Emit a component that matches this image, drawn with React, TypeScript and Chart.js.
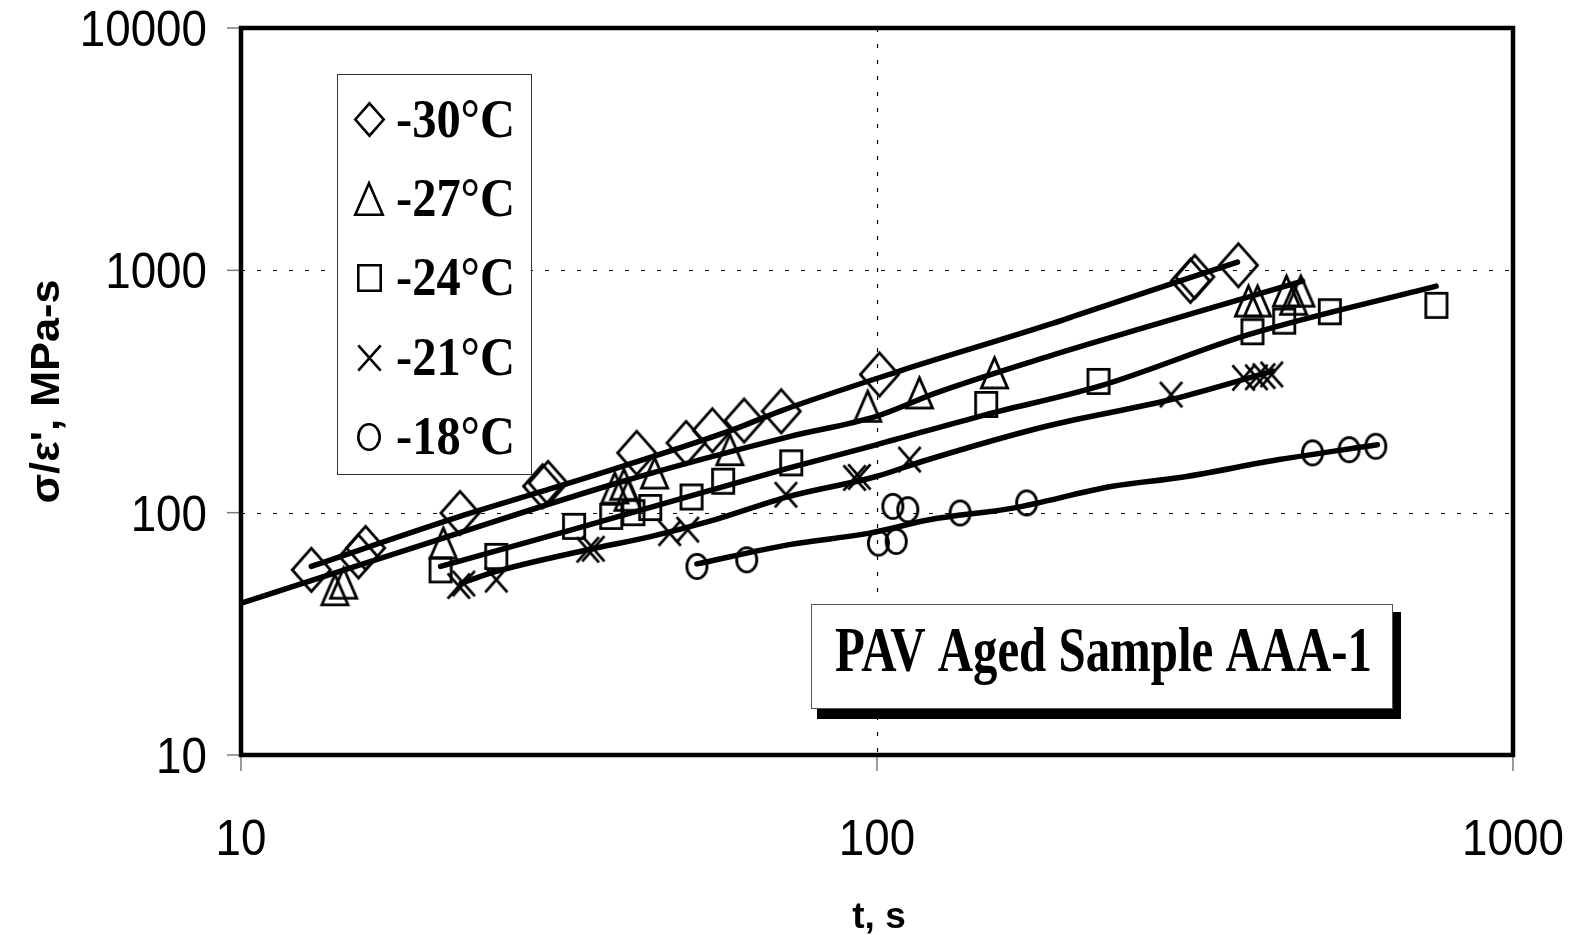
import { useEffect, useRef } from 'react';
import { Chart, registerables } from 'chart.js';

Chart.register(...registerables);

// Creep stiffness σ/ε' (MPa-s) against loading time t (s), PAV aged sample AAA-1.
const LEGEND_LABELS = ['-30°C', '-27°C', '-24°C', '-21°C', '-18°C'];

// -30 °C measurements and fitted curve
const T30 = [12.9, 15.3, 15.7, 22.1, 29.8, 30.4, 41.9, 50.1, 55.1, 61.8, 70.7, 100.9, 311, 316, 370];
const V30 = [58.1, 66.0, 71.5, 99.7, 128.5, 132.7, 176.5, 194, 218.8, 240, 262, 371.7, 905, 940, 1049];
const FIT_T30 = [12.9, 22.1, 29.8, 39.9, 59.4, 70.3, 108.5, 186.6, 208, 368.8];
const FIT_V30 = [60, 96.5, 122.6, 155.6, 220, 262, 384, 598, 658, 1082];

// -27 °C
const T27 = [14.05, 14.5, 20.8, 38.7, 40.0, 40.6, 44.7, 58.7, 96.7, 116.6, 153, 383.8, 396.6, 440.4, 452, 463.9];
const V27 = [48.1, 51.2, 74.9, 126.5, 131, 118, 145.8, 182, 275, 312, 377.6, 747, 747, 821, 760, 821];
const FIT_T27 = [10.1, 20.8, 39.9, 72.8, 99.7, 123.9, 186.6, 268, 466.6];
const FIT_V27 = [42.6, 78.6, 134.8, 206, 249.7, 312, 442.6, 588, 903];

// -24 °C
const T24 = [20.6, 25.2, 33.4, 38.2, 41.4, 44.0, 51.1, 57.3, 73.3, 148.5, 223, 389.4, 436.8, 515.3, 757.9];
const V24 = [58.1, 66.0, 87.8, 96.5, 100, 105, 116.1, 134.8, 160.5, 279.5, 348, 558, 617, 675, 717];
const FIT_T24 = [20.6, 33.2, 72.8, 99.7, 148.5, 223.7, 384.8, 757];
const FIT_V24 = [60, 85.1, 152.9, 190.6, 254, 332.6, 543.9, 861];

// -21 °C
const T21 = [22.0, 22.4, 25.2, 35.1, 35.8, 47.2, 50.4, 71.9, 92.2, 93.8, 112.5, 290, 377, 395, 406, 417.5];
const V21 = [49.8, 51.0, 52.9, 70.3, 71.0, 82.3, 85.1, 118.6, 139.1, 140.5, 165.6, 307, 360, 362, 366, 372];
const FIT_T21 = [22.2, 25.2, 35.1, 44.2, 54.6, 72.8, 99.7, 118, 184.5, 290, 418.8];
const FIT_V21 = [51.2, 57.2, 70.3, 79.8, 92.2, 116.8, 141, 163, 227.3, 293, 383.7];

// -18 °C
const T18 = [52.1, 62.4, 100.5, 107.2, 105.9, 111.8, 135.1, 171.9, 483.9, 552.5, 608.5];
const V18 = [60, 63.9, 74.9, 76.1, 106.2, 102.9, 99.7, 109.7, 176.5, 182, 187.9];
const FIT_T18 = [52.1, 72.8, 97.4, 120.9, 163.5, 234.7, 301.6, 428.9, 612];
const FIT_V18 = [61.5, 73.8, 82.3, 93.5, 104.4, 128.5, 140, 165.6, 190.6];

const X_TICKS = [10, 100, 1000];
const Y_TICKS = [10, 100, 1000, 10000];
const X_TITLE = 't, s';
const Y_TITLE = "σ/ε', MPa-s";
const NOTE = 'PAV Aged Sample AAA-1';

const W = 1586;
const H = 935;
const SANS = '"Liberation Sans", Arial, Helvetica, sans-serif';
const SERIF = '"Liberation Serif", "Times New Roman", Times, serif';

type Kind = 'diamond' | 'triangle' | 'square' | 'cross' | 'circle';

// Hollow marker glyphs, slightly taller than wide
const PLOT_MARKER: Record<Kind, [number, number]> = {
  diamond: [41, 46],
  triangle: [29, 33],
  square: [24, 27],
  cross: [25, 28],
  circle: [23, 27],
};
const LEGEND_MARKER: Record<Kind, [number, number]> = {
  diamond: [31, 35],
  triangle: [30, 34],
  square: [25, 28],
  cross: [25, 28],
  circle: [24, 28],
};

function makeMarker(kind: Kind, w: number, h: number, lw: number): HTMLCanvasElement {
  const pad = 4;
  const c = document.createElement('canvas');
  c.width = Math.ceil(w) + pad * 2;
  c.height = Math.ceil(h) + pad * 2;
  const g = c.getContext('2d')!;
  g.strokeStyle = '#000';
  g.lineWidth = lw;
  g.lineJoin = 'miter';
  const x0 = pad + lw / 2;
  const y0 = pad + lw / 2;
  const x1 = pad + w - lw / 2;
  const y1 = pad + h - lw / 2;
  const cx = (x0 + x1) / 2;
  const cy = (y0 + y1) / 2;
  g.beginPath();
  if (kind === 'diamond') {
    g.moveTo(cx, y0);
    g.lineTo(x1, cy);
    g.lineTo(cx, y1);
    g.lineTo(x0, cy);
    g.closePath();
  } else if (kind === 'triangle') {
    g.moveTo(cx, y0);
    g.lineTo(x1, y1);
    g.lineTo(x0, y1);
    g.closePath();
  } else if (kind === 'square') {
    g.rect(x0, y0, x1 - x0, y1 - y0);
  } else if (kind === 'cross') {
    g.moveTo(x0, y0);
    g.lineTo(x1, y1);
    g.moveTo(x1, y0);
    g.lineTo(x0, y1);
  } else {
    g.ellipse(cx, cy, (x1 - x0) / 2, (y1 - y0) / 2, 0, 0, Math.PI * 2);
  }
  g.stroke();
  return c;
}

const zip = (xs: number[], ys: number[]) => xs.map((x, i) => ({ x, y: ys[i] }));

const SERIES: { kind: Kind; t: number[]; v: number[]; ft: number[]; fv: number[] }[] = [
  { kind: 'diamond', t: T30, v: V30, ft: FIT_T30, fv: FIT_V30 },
  { kind: 'triangle', t: T27, v: V27, ft: FIT_T27, fv: FIT_V27 },
  { kind: 'square', t: T24, v: V24, ft: FIT_T24, fv: FIT_V24 },
  { kind: 'cross', t: T21, v: V21, ft: FIT_T21, fv: FIT_V21 },
  { kind: 'circle', t: T18, v: V18, ft: FIT_T18, fv: FIT_V18 },
];

function fitScale(ctx: CanvasRenderingContext2D, text: string, font: string, width: number) {
  ctx.font = font;
  return width / ctx.measureText(text).width;
}

function drawText(
  ctx: CanvasRenderingContext2D,
  text: string,
  x: number,
  y: number,
  font: string,
  sx: number,
  align: CanvasTextAlign,
  rotate = 0,
) {
  ctx.save();
  ctx.translate(x, y);
  if (rotate) ctx.rotate(rotate);
  ctx.scale(sx, 1);
  ctx.font = font;
  ctx.textAlign = align;
  ctx.textBaseline = 'alphabetic';
  ctx.fillStyle = '#000';
  ctx.fillText(text, 0, 0);
  ctx.restore();
}

function buildDecorations(legendMarkers: HTMLCanvasElement[]) {
  return {
    id: 'decorations',
    beforeDatasetsDraw(chart: any) {
      const { ctx, chartArea: a, scales } = chart;
      const xs = scales.x;
      const ys = scales.y;
      ctx.save();
      ctx.strokeStyle = '#000';
      ctx.lineWidth = 1.2;
      ctx.setLineDash([4, 12]);
      X_TICKS.slice(1, -1).forEach((t) => {
        const px = Math.round(xs.getPixelForValue(t)) + 0.5;
        ctx.beginPath();
        ctx.moveTo(px, a.top);
        ctx.lineTo(px, a.bottom);
        ctx.stroke();
      });
      Y_TICKS.slice(1, -1).forEach((v) => {
        const py = Math.round(ys.getPixelForValue(v)) + 0.5;
        ctx.beginPath();
        ctx.moveTo(a.left, py);
        ctx.lineTo(a.right, py);
        ctx.stroke();
      });
      ctx.restore();
    },
    afterDatasetsDraw(chart: any) {
      const { ctx, chartArea: a, scales } = chart;
      const xs = scales.x;
      const ys = scales.y;
      ctx.save();
      // outward tick marks
      ctx.strokeStyle = '#7a7a7a';
      ctx.lineWidth = 1.5;
      Y_TICKS.forEach((v) => {
        const py = ys.getPixelForValue(v);
        ctx.beginPath();
        ctx.moveTo(a.left - 14, py);
        ctx.lineTo(a.left, py);
        ctx.stroke();
      });
      X_TICKS.forEach((t) => {
        const px = xs.getPixelForValue(t);
        ctx.beginPath();
        ctx.moveTo(px, a.bottom);
        ctx.lineTo(px, a.bottom + 16);
        ctx.stroke();
      });
      // plot frame
      ctx.strokeStyle = '#000';
      ctx.lineWidth = 4.5;
      ctx.strokeRect(a.left, a.top, a.right - a.left, a.bottom - a.top);
      ctx.restore();
    },
    afterDraw(chart: any) {
      const { ctx, chartArea: a, scales } = chart;
      const xs = scales.x;
      const ys = scales.y;

      // tick labels
      const tickFont = `50px ${SANS}`;
      Y_TICKS.forEach((v) => {
        drawText(ctx, String(v), a.left - 34, ys.getPixelForValue(v) + 18, tickFont, 0.915, 'right');
      });
      X_TICKS.forEach((t) => {
        drawText(ctx, String(t), xs.getPixelForValue(t), a.bottom + 100, tickFont, 0.915, 'center');
      });

      // axis titles
      drawText(ctx, X_TITLE, (a.left + a.right) / 2 + 2, 928, `bold 37px ${SANS}`, 1, 'center');
      const yFont = `bold 41px ${SANS}`;
      const ySx = fitScale(ctx, Y_TITLE, yFont, 224);
      drawText(ctx, Y_TITLE, 58.5, (a.top + a.bottom) / 2, yFont, ySx, 'center', -Math.PI / 2);

      // legend
      const lx = a.left + 96;
      const ly = a.top + 46;
      ctx.save();
      ctx.fillStyle = '#fff';
      ctx.fillRect(lx, ly, 194, 400);
      ctx.strokeStyle = '#333';
      ctx.lineWidth = 1;
      ctx.strokeRect(lx + 0.5, ly + 0.5, 194, 400);
      ctx.restore();
      const legFont = `bold 54px ${SERIF}`;
      const legSx = fitScale(ctx, LEGEND_LABELS[0], legFont, 119);
      LEGEND_LABELS.forEach((label, i) => {
        const base = ly + 62.5 + i * 79.4;
        const m = legendMarkers[i];
        ctx.drawImage(m, Math.round(lx + 32 - m.width / 2), Math.round(base - 17 - m.height / 2));
        drawText(ctx, label, lx + 59, base, legFont, legSx, 'left');
      });

      // sample note with drop shadow
      const nx = a.left + 570;
      const ny = a.top + 576;
      const nw = 581;
      const nh = 104;
      ctx.save();
      ctx.fillStyle = '#000';
      ctx.fillRect(nx + 6, ny + 8, nw + 3, nh + 3);
      ctx.fillStyle = '#fff';
      ctx.fillRect(nx, ny, nw, nh);
      ctx.strokeStyle = '#555';
      ctx.lineWidth = 1;
      ctx.strokeRect(nx + 0.5, ny + 0.5, nw, nh);
      ctx.restore();
      const noteFont = `bold 64px ${SERIF}`;
      const noteSx = fitScale(ctx, NOTE, noteFont, 537);
      drawText(ctx, NOTE, nx + 24, ny + 67, noteFont, noteSx, 'left');
    },
  };
}

export default function App() {
  const ref = useRef<HTMLCanvasElement>(null);

  useEffect(() => {
    document.body.style.margin = '0';
    const canvas = ref.current;
    if (!canvas) return;

    const datasets: any[] = [];
    const legendMarkers: HTMLCanvasElement[] = [];
    SERIES.forEach((s, i) => {
      const [pw, ph] = PLOT_MARKER[s.kind];
      const [lw, lh] = LEGEND_MARKER[s.kind];
      legendMarkers.push(makeMarker(s.kind, lw, lh, 2.6));
      datasets.push({
        label: LEGEND_LABELS[i],
        data: zip(s.t, s.v),
        showLine: false,
        pointStyle: makeMarker(s.kind, pw, ph, 2.8),
        pointRadius: 14,
        borderWidth: 0,
        backgroundColor: 'transparent',
        borderColor: '#000',
      });
      datasets.push({
        label: `${LEGEND_LABELS[i]} fit`,
        data: zip(s.ft, s.fv),
        showLine: true,
        pointRadius: 0,
        borderColor: '#000',
        borderWidth: 5.5,
        borderCapStyle: 'round',
        borderJoinStyle: 'round',
        cubicInterpolationMode: 'monotone',
        fill: false,
      });
    });

    const chart = new Chart(canvas, {
      type: 'scatter',
      data: { datasets },
      options: {
        animation: false,
        responsive: false,
        events: [],
        layout: { padding: { left: 241, right: W - 1513, top: 28, bottom: H - 755 } },
        scales: {
          x: { type: 'logarithmic', min: X_TICKS[0], max: X_TICKS[X_TICKS.length - 1], display: false },
          y: { type: 'logarithmic', min: Y_TICKS[0], max: Y_TICKS[Y_TICKS.length - 1], display: false },
        },
        plugins: {
          legend: { display: false },
          tooltip: { enabled: false },
        },
      },
      plugins: [buildDecorations(legendMarkers)],
    } as any);

    return () => chart.destroy();
  }, []);

  return (
    <div style={{ width: W, height: H, background: '#fff' }}>
      <canvas ref={ref} width={W} height={H} style={{ display: 'block' }} />
    </div>
  );
}
